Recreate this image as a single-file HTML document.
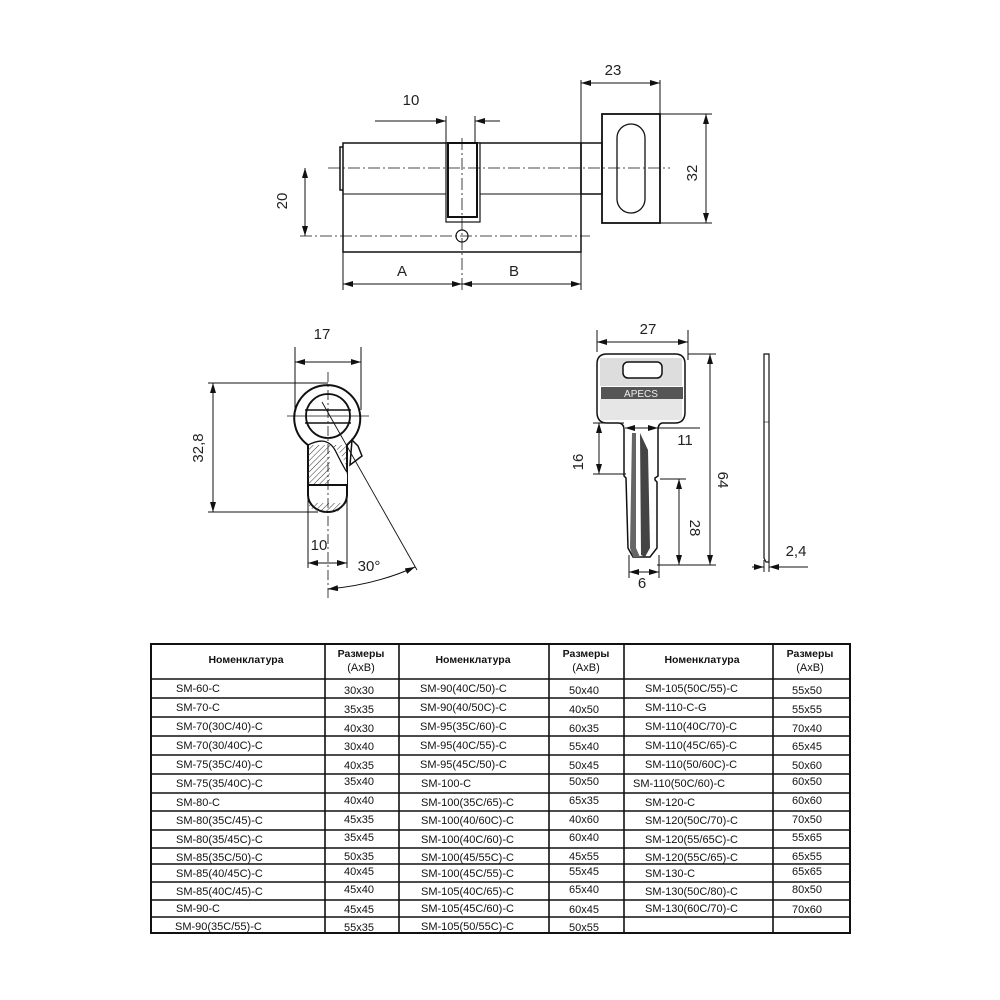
<!DOCTYPE html>
<html><head><meta charset="utf-8"><style>
html,body{margin:0;padding:0;background:#fff;width:1000px;height:1000px;overflow:hidden}
svg{position:absolute;left:0;top:0}
text{font-family:"Liberation Sans",sans-serif;fill:#222}
.t{font-family:"Liberation Sans","DejaVu Sans",sans-serif;font-size:11px;fill:#111}
.h{font-weight:bold;font-size:10.5px}
</style></head><body>
<svg width="1000" height="1000" viewBox="0 0 1000 1000" xmlns="http://www.w3.org/2000/svg">
<defs>
<marker id="a" viewBox="0 0 10 6" refX="10" refY="3" markerWidth="10" markerHeight="6" orient="auto-start-reverse" markerUnits="userSpaceOnUse"><path d="M0,0L10,3L0,6z" fill="#111"/></marker>
<pattern id="hp" width="4" height="4" patternUnits="userSpaceOnUse" patternTransform="rotate(45)"><line x1="0" y1="0" x2="0" y2="4" stroke="#333" stroke-width="1"/></pattern>
</defs>
<g stroke="#111" fill="none" stroke-width="1">
<rect x="343" y="143" width="238" height="109" stroke-width="1.5"/>
<line x1="343" y1="194" x2="602" y2="194"/>
<path d="M343,147 L340,147 L340,190 L343,190" stroke-width="1.5"/>
<rect x="446" y="143" width="34" height="79" fill="#fff" stroke-width="1.2"/>
<rect x="448" y="143" width="29" height="74" stroke-width="2"/>
<rect x="581" y="143" width="21" height="51" stroke-width="1.5"/>
<rect x="602" y="114" width="58" height="109" stroke-width="1.8"/>
<rect x="617" y="124" width="28" height="89" rx="14" stroke-width="1.3"/>
<line x1="328" y1="168" x2="670" y2="168" stroke-dasharray="12,3,2,3" stroke-width="0.8"/>
<line x1="300" y1="236" x2="590" y2="236" stroke-dasharray="12,3,2,3" stroke-width="0.8"/>
<line x1="462" y1="138" x2="462" y2="290" stroke-dasharray="12,3,2,3" stroke-width="0.8"/>
<circle cx="462" cy="236" r="6" stroke-width="1.2"/>
<line x1="305" y1="168" x2="305" y2="236" marker-start="url(#a)" marker-end="url(#a)"/>
<line x1="375" y1="121" x2="446" y2="121" marker-end="url(#a)"/>
<line x1="500" y1="121" x2="475" y2="121" marker-end="url(#a)"/>
<line x1="446" y1="116" x2="446" y2="143"/><line x1="475" y1="116" x2="475" y2="143"/>
<line x1="581" y1="80" x2="581" y2="143"/><line x1="660" y1="80" x2="660" y2="114"/>
<line x1="581" y1="83" x2="660" y2="83" marker-start="url(#a)" marker-end="url(#a)"/>
<line x1="660" y1="114" x2="712" y2="114"/><line x1="660" y1="223" x2="712" y2="223"/>
<line x1="706" y1="114" x2="706" y2="223" marker-start="url(#a)" marker-end="url(#a)"/>
<line x1="343" y1="252" x2="343" y2="290"/><line x1="581" y1="252" x2="581" y2="290"/>
<line x1="343" y1="284" x2="462" y2="284" marker-start="url(#a)" marker-end="url(#a)"/>
<line x1="462" y1="284" x2="581" y2="284" marker-start="url(#a)" marker-end="url(#a)"/>

<path d="M308,445 L308,495 A19.5,17 0 0 0 347,495 L347,445 L352,440 A33,33 0 1 0 308,445 Z" fill="#fff" stroke-width="2"/>
<circle cx="328" cy="416" r="22" stroke-width="1.8"/>
<rect x="308" y="445" width="39" height="40" fill="url(#hp)" stroke="none"/>
<path d="M330,445 Q345,452 347,475 L347,485 L330,485 Z" fill="#fff" stroke="none"/>
<path d="M308,445 C318,440 328,438 335,450 C340,460 345,470 347,472" stroke-width="1.3"/>
<path d="M308,503 L347,503 L345,508 Q328,518 310,508 Z" fill="url(#hp)" stroke="none"/>
<line x1="308" y1="485" x2="347" y2="485" stroke-width="2"/>
<line x1="305" y1="410" x2="351" y2="410" stroke-width="1.5"/>
<line x1="305" y1="423" x2="351" y2="423" stroke-width="1.5"/>
<path d="M352,440 L358,446 L362,456 L350,465 Z" stroke-width="1.5" fill="#fff"/>
<line x1="287" y1="416" x2="369" y2="416" stroke-width="0.8"/>
<line x1="328" y1="372" x2="328" y2="598" stroke-dasharray="10,3,2,3" stroke-width="0.8"/>
<line x1="322" y1="402" x2="417" y2="570" stroke-width="0.9"/>
<line x1="295" y1="347" x2="295" y2="410"/><line x1="361" y1="347" x2="361" y2="410"/>
<line x1="295" y1="362" x2="361" y2="362" marker-start="url(#a)" marker-end="url(#a)"/>
<line x1="208" y1="383" x2="328" y2="383"/><line x1="208" y1="512" x2="318" y2="512"/>
<line x1="213" y1="383" x2="213" y2="512" marker-start="url(#a)" marker-end="url(#a)"/>
<line x1="308" y1="495" x2="308" y2="568"/><line x1="347" y1="495" x2="347" y2="568"/>
<line x1="308" y1="563" x2="347" y2="563" marker-start="url(#a)" marker-end="url(#a)"/>
<path d="M328,589 Q375,585 415,567" marker-start="url(#a)" marker-end="url(#a)"/>

<path d="M607,354 L675,354 Q685,354 685,364 L685,412 Q685,423 675,423 L662,423 Q658,424 658,430 L658,476 L655,478 L655,480 L657,482 L657,548 L650,557 L633,557 L628,548 L626,478 L624,476 L624,430 Q624,423 618,423 L607,423 Q597,423 597,412 L597,364 Q597,354 607,354 Z" fill="#fff" stroke-width="1.5"/>
<rect x="600" y="358" width="82" height="28" fill="#ddd" stroke="none"/>
<rect x="600" y="399" width="82" height="21" fill="#e6e6e6" stroke="none"/>
<rect x="623" y="362" width="39" height="16" rx="5" fill="#fff" stroke-width="1.5"/>
<rect x="601" y="387" width="82" height="12" fill="#555" stroke="none"/>
<path d="M632,433 L636,433 L636,548 L640,557 L633,557 L630,548 Z" fill="#666" stroke="none"/>
<path d="M640,433 L648,450 L650,548 L645,557 L641,555 Z" fill="#444" stroke="none"/>
<line x1="597" y1="330" x2="597" y2="352"/><line x1="688" y1="330" x2="688" y2="360"/>
<line x1="597" y1="342" x2="688" y2="342" marker-start="url(#a)" marker-end="url(#a)"/>
<line x1="688" y1="354" x2="716" y2="354"/><line x1="657" y1="565" x2="716" y2="565"/>
<line x1="710" y1="354" x2="710" y2="565" marker-start="url(#a)" marker-end="url(#a)"/>
<line x1="593" y1="423" x2="624" y2="423"/><line x1="593" y1="474" x2="626" y2="474"/>
<line x1="599" y1="423" x2="599" y2="474" marker-start="url(#a)" marker-end="url(#a)"/>
<line x1="660" y1="479" x2="686" y2="479"/>
<line x1="679" y1="479" x2="679" y2="565" marker-start="url(#a)" marker-end="url(#a)"/>
<line x1="625" y1="428" x2="658" y2="428" marker-start="url(#a)" marker-end="url(#a)"/><line x1="658" y1="428" x2="700" y2="428"/>
<line x1="629" y1="555" x2="629" y2="578"/><line x1="659" y1="555" x2="659" y2="578"/>
<line x1="629" y1="572" x2="659" y2="572" marker-start="url(#a)" marker-end="url(#a)"/>
<path d="M764,354 L769,354 L769,562 L766,562 L764,558 Z" stroke-width="1.2"/>
<line x1="764" y1="422" x2="769" y2="422" stroke-width="0.6"/>
<line x1="752" y1="567" x2="764" y2="567" marker-end="url(#a)"/>
<line x1="808" y1="567" x2="769" y2="567" marker-end="url(#a)"/>
<line x1="764" y1="560" x2="764" y2="572"/><line x1="769" y1="560" x2="769" y2="572"/>
</g>
<g font-size="15">
<text x="411" y="105" text-anchor="middle">10</text>
<text x="613" y="75" text-anchor="middle">23</text>
<text x="402" y="276" text-anchor="middle">A</text>
<text x="514" y="276" text-anchor="middle">B</text>
<text transform="translate(287,201) rotate(-90)" text-anchor="middle">20</text>
<text transform="translate(697,173) rotate(-90)" text-anchor="middle">32</text>
<text x="322" y="339" text-anchor="middle">17</text>
<text transform="translate(203,448) rotate(-90)" text-anchor="middle">32,8</text>
<text x="319" y="550" text-anchor="middle">10</text>
<text x="369" y="571" text-anchor="middle">30°</text>
<text x="648" y="334" text-anchor="middle">27</text>
<text x="685" y="445" text-anchor="middle">11</text>
<text transform="translate(583,462) rotate(-90)" text-anchor="middle">16</text>
<text transform="translate(690,528) rotate(90)" text-anchor="middle">28</text>
<text transform="translate(718,480) rotate(90)" text-anchor="middle">64</text>
<text x="642" y="588" text-anchor="middle">6</text>
<text x="796" y="556" text-anchor="middle">2,4</text>
</g>
<text x="641" y="397" text-anchor="middle" font-size="10" style="fill:#eee">APECS</text>

<g stroke="#111" stroke-width="1.6" fill="none">
<rect x="151" y="644" width="699" height="289" stroke-width="2"/>
<line x1="151" y1="679" x2="850" y2="679"/>
<line x1="151" y1="698" x2="850" y2="698"/><line x1="151" y1="717" x2="850" y2="717"/>
<line x1="151" y1="736" x2="850" y2="736"/><line x1="151" y1="755" x2="850" y2="755"/>
<line x1="151" y1="774" x2="850" y2="774"/><line x1="151" y1="793" x2="850" y2="793"/>
<line x1="151" y1="811" x2="850" y2="811"/><line x1="151" y1="830" x2="850" y2="830"/>
<line x1="151" y1="848" x2="850" y2="848"/><line x1="151" y1="864" x2="850" y2="864"/>
<line x1="151" y1="882" x2="850" y2="882"/><line x1="151" y1="900" x2="850" y2="900"/>
<line x1="151" y1="917" x2="850" y2="917"/>
<line x1="325" y1="644" x2="325" y2="933"/><line x1="399" y1="644" x2="399" y2="933"/>
<line x1="549" y1="644" x2="549" y2="933"/><line x1="624" y1="644" x2="624" y2="933"/>
<line x1="773" y1="644" x2="773" y2="933"/>
</g>
<g class="t">
<text class="t h" x="246" y="663" text-anchor="middle">Номенклатура</text>
<text class="t h" x="361" y="657" text-anchor="middle">Размеры</text><text class="t" x="361" y="671" text-anchor="middle" font-size="10">(АхВ)</text>
<text class="t h" x="473" y="663" text-anchor="middle">Номенклатура</text>
<text class="t h" x="586" y="657" text-anchor="middle">Размеры</text><text class="t" x="586" y="671" text-anchor="middle" font-size="10">(АхВ)</text>
<text class="t h" x="702" y="663" text-anchor="middle">Номенклатура</text>
<text class="t h" x="810" y="657" text-anchor="middle">Размеры</text><text class="t" x="810" y="671" text-anchor="middle" font-size="10">(АхВ)</text>
</g>
<g class="t">
<text class="t" x="176" y="692">SM-60-C</text><text class="t" x="344" y="694">30x30</text><text class="t" x="420" y="692">SM-90(40C/50)-C</text><text class="t" x="569" y="694">50x40</text><text class="t" x="645" y="692">SM-105(50C/55)-C</text><text class="t" x="792" y="694">55x50</text>
<text class="t" x="176" y="711">SM-70-C</text><text class="t" x="344" y="713">35x35</text><text class="t" x="420" y="711">SM-90(40/50C)-C</text><text class="t" x="569" y="713">40x50</text><text class="t" x="645" y="711">SM-110-C-G</text><text class="t" x="792" y="713">55x55</text>
<text class="t" x="176" y="730">SM-70(30C/40)-C</text><text class="t" x="344" y="732">40x30</text><text class="t" x="420" y="730">SM-95(35C/60)-C</text><text class="t" x="569" y="732">60x35</text><text class="t" x="645" y="730">SM-110(40C/70)-C</text><text class="t" x="792" y="732">70x40</text>
<text class="t" x="176" y="749">SM-70(30/40C)-C</text><text class="t" x="344" y="750">30x40</text><text class="t" x="420" y="749">SM-95(40C/55)-C</text><text class="t" x="569" y="750">55x40</text><text class="t" x="645" y="749">SM-110(45C/65)-C</text><text class="t" x="792" y="750">65x45</text>
<text class="t" x="176" y="768">SM-75(35C/40)-C</text><text class="t" x="344" y="769">40x35</text><text class="t" x="420" y="768">SM-95(45C/50)-C</text><text class="t" x="569" y="769">50x45</text><text class="t" x="645" y="768">SM-110(50/60C)-C</text><text class="t" x="792" y="769">50x60</text>
<text class="t" x="176" y="787">SM-75(35/40C)-C</text><text class="t" x="344" y="785">35x40</text><text class="t" x="421" y="787">SM-100-C</text><text class="t" x="569" y="785">50x50</text><text class="t" x="633" y="787">SM-110(50C/60)-C</text><text class="t" x="792" y="785">60x50</text>
<text class="t" x="176" y="806">SM-80-C</text><text class="t" x="344" y="804">40x40</text><text class="t" x="421" y="806">SM-100(35C/65)-C</text><text class="t" x="569" y="804">65x35</text><text class="t" x="645" y="806">SM-120-C</text><text class="t" x="792" y="804">60x60</text>
<text class="t" x="176" y="824">SM-80(35C/45)-C</text><text class="t" x="344" y="823">45x35</text><text class="t" x="421" y="824">SM-100(40/60C)-C</text><text class="t" x="569" y="823">40x60</text><text class="t" x="645" y="824">SM-120(50C/70)-C</text><text class="t" x="792" y="823">70x50</text>
<text class="t" x="176" y="843">SM-80(35/45C)-C</text><text class="t" x="344" y="841">35x45</text><text class="t" x="421" y="843">SM-100(40C/60)-C</text><text class="t" x="569" y="841">60x40</text><text class="t" x="645" y="843">SM-120(55/65C)-C</text><text class="t" x="792" y="841">55x65</text>
<text class="t" x="176" y="861">SM-85(35C/50)-C</text><text class="t" x="344" y="860">50x35</text><text class="t" x="421" y="861">SM-100(45/55C)-C</text><text class="t" x="569" y="860">45x55</text><text class="t" x="645" y="861">SM-120(55C/65)-C</text><text class="t" x="792" y="860">65x55</text>
<text class="t" x="176" y="877">SM-85(40/45C)-C</text><text class="t" x="344" y="875">40x45</text><text class="t" x="421" y="877">SM-100(45C/55)-C</text><text class="t" x="569" y="875">55x45</text><text class="t" x="645" y="877">SM-130-C</text><text class="t" x="792" y="875">65x65</text>
<text class="t" x="176" y="895">SM-85(40C/45)-C</text><text class="t" x="344" y="893">45x40</text><text class="t" x="421" y="895">SM-105(40C/65)-C</text><text class="t" x="569" y="893">65x40</text><text class="t" x="645" y="895">SM-130(50C/80)-C</text><text class="t" x="792" y="893">80x50</text>
<text class="t" x="176" y="912">SM-90-C</text><text class="t" x="344" y="913">45x45</text><text class="t" x="421" y="912">SM-105(45C/60)-C</text><text class="t" x="569" y="913">60x45</text><text class="t" x="645" y="912">SM-130(60C/70)-C</text><text class="t" x="792" y="913">70x60</text>
<text class="t" x="175" y="930">SM-90(35C/55)-C</text><text class="t" x="344" y="931">55x35</text><text class="t" x="421" y="930">SM-105(50/55C)-C</text><text class="t" x="569" y="931">50x55</text>
</g>
</svg>
</body></html>
